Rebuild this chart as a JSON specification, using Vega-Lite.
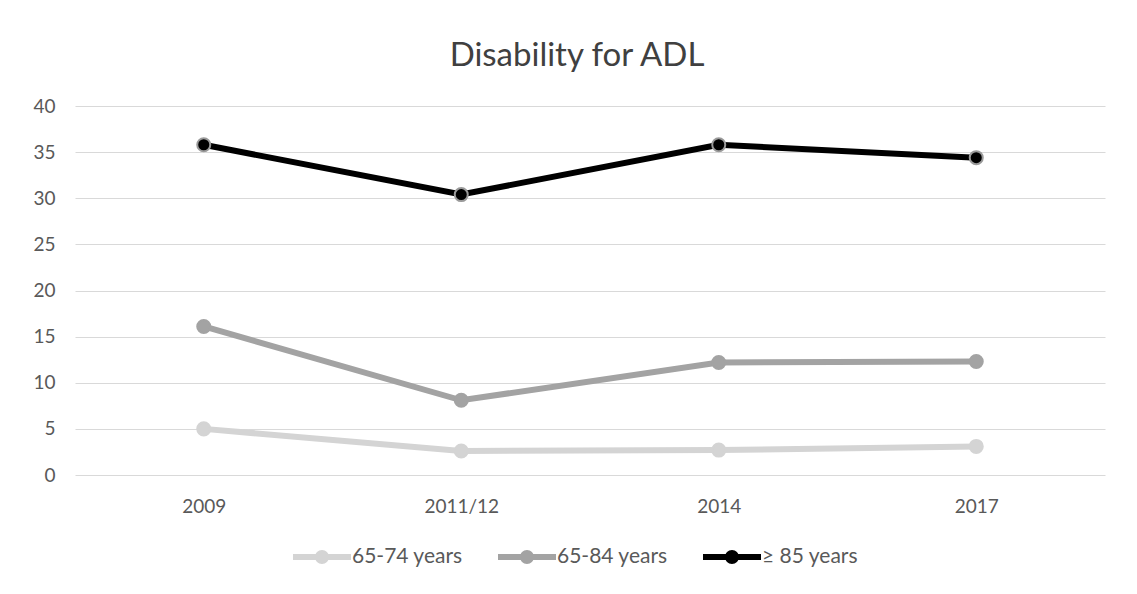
{
  "$schema": "https://vega.github.io/schema/vega-lite/v6.json",
  "autosize": "none",
  "width": 1030,
  "height": 369,
  "padding": {"left": 75, "top": 106, "right": 32, "bottom": 119},
  "background": "white",
  "title": {
    "text": "Disability for ADL",
    "font": "Lato",
    "fontSize": 33,
    "fontWeight": "normal",
    "color": "#404040",
    "anchor": "middle",
    "frame": "group",
    "dx": -13,
    "offset": 24
  },
  "data": {
    "values": [
      {"year": "2009", "group": "65-74 years", "value": 5.0},
      {"year": "2011/12", "group": "65-74 years", "value": 2.6},
      {"year": "2014", "group": "65-74 years", "value": 2.7},
      {"year": "2017", "group": "65-74 years", "value": 3.1},
      {"year": "2009", "group": "65-84 years", "value": 16.1},
      {"year": "2011/12", "group": "65-84 years", "value": 8.1},
      {"year": "2014", "group": "65-84 years", "value": 12.2},
      {"year": "2017", "group": "65-84 years", "value": 12.3},
      {"year": "2009", "group": "≥ 85 years", "value": 35.8},
      {"year": "2011/12", "group": "≥ 85 years", "value": 30.4},
      {"year": "2014", "group": "≥ 85 years", "value": 35.8},
      {"year": "2017", "group": "≥ 85 years", "value": 34.4}
    ]
  },
  "encoding": {
    "x": {
      "field": "year",
      "type": "nominal",
      "sort": ["2009", "2011/12", "2014", "2017"],
      "scale": {"type": "point", "padding": 0.5},
      "axis": {
        "title": null,
        "labelAngle": 0,
        "domain": false,
        "ticks": false,
        "grid": false,
        "labelFont": "Lato",
        "labelFontSize": 19,
        "labelColor": "#595959",
        "labelPadding": 22
      }
    },
    "y": {
      "field": "value",
      "type": "quantitative",
      "scale": {"domain": [0, 40], "nice": false},
      "axis": {
        "title": null,
        "values": [0, 5, 10, 15, 20, 25, 30, 35, 40],
        "domain": false,
        "ticks": false,
        "grid": true,
        "gridColor": "#d9d9d9",
        "gridWidth": 1,
        "labelFont": "Lato",
        "labelFontSize": 19,
        "labelColor": "#595959",
        "labelPadding": 20
      }
    }
  },
  "layer": [
    {
      "mark": {"type": "line", "strokeWidth": 6, "strokeCap": "round"},
      "encoding": {
        "color": {
          "field": "group",
          "type": "nominal",
          "sort": ["65-74 years", "65-84 years", "≥ 85 years"],
          "scale": {
            "domain": ["65-74 years", "65-84 years", "≥ 85 years"],
            "range": ["#d4d4d4", "#a3a3a3", "#000000"]
          },
          "legend": {
            "title": null,
            "orient": "none",
            "legendX": 218,
            "legendY": 422,
            "direction": "horizontal",
            "symbolType": "M-1,-0.1 H1 V0.1 H-1 Z M-0.24,0 A0.24,0.24 0 1,1 0.24,0 A0.24,0.24 0 1,1 -0.24,0 Z",
            "symbolSize": 3364,
            "symbolStrokeWidth": 0,
            "symbolOpacity": 1,
            "labelFont": "Lato",
            "labelFontSize": 21,
            "labelColor": "#595959",
            "labelOffset": 1,
            "columnPadding": 35
          }
        }
      }
    },
    {
      "mark": {"type": "point", "filled": true, "size": 170, "opacity": 1},
      "encoding": {
        "fill": {
          "field": "group",
          "type": "nominal",
          "scale": {
            "domain": ["65-74 years", "65-84 years", "≥ 85 years"],
            "range": ["#d4d4d4", "#a3a3a3", "#000000"]
          },
          "legend": null
        },
        "stroke": {
          "field": "group",
          "type": "nominal",
          "scale": {
            "domain": ["65-74 years", "65-84 years", "≥ 85 years"],
            "range": ["#d4d4d4", "#a3a3a3", "#9a9a9a"]
          },
          "legend": null
        },
        "strokeWidth": {"value": 2}
      }
    }
  ],
  "config": {
    "view": {"stroke": null}
  }
}
